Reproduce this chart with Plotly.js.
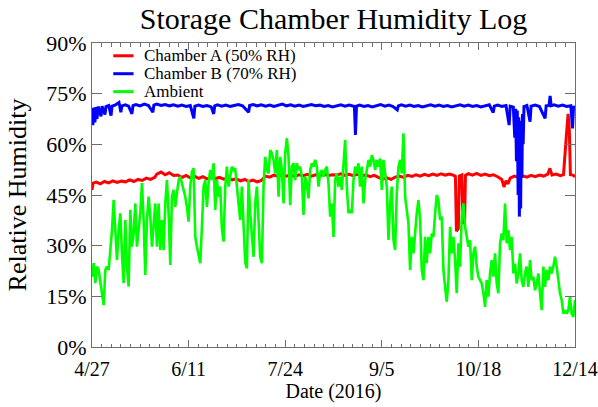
<!DOCTYPE html>
<html>
<head>
<meta charset="utf-8">
<script src="https://cdn.plot.ly/plotly-3.0.1.min.js"></script>
<style>
  html, body { margin: 0; padding: 0; background: #fff; }
  #chart { width: 598px; height: 407px; }
</style>
</head>
<body>
<div id="chart"></div>
<script>
// Storage chamber humidity log, 4/27 - 12/14 2016
// x is days since the first reading (span 231 days)
const SPAN = 231;
const tickLabels = ['4/27', '6/11', '7/24', '9/5', '10/18', '12/14'];
const seriesNames = ['Chamber A (50% RH)', 'Chamber B (70% RH)', 'Ambient'];
const seriesColors = ['#ff0000', '#0000ff', '#00ff00'];

// Chamber A readings (day, %RH)
const chamberADays = [0, 0.5, 2, 4, 6, 8, 10, 12, 14, 16, 18, 20, 22, 24, 26, 28, 30,
  31, 33, 35, 37, 39, 41, 43, 45, 47, 49, 51, 53, 55, 57, 59, 61, 63, 65, 67, 69, 71, 73,
  75, 77, 79, 81, 83, 85, 87, 89, 91, 93, 95, 97, 99, 101, 103, 105, 107, 109, 111, 113,
  115, 117, 119, 121, 123, 125, 127, 129, 131, 133, 135, 137, 139, 141, 143, 145, 147,
  149, 151, 153, 155, 157, 159, 161, 163, 165, 167, 169, 171, 173, 173.8, 174.3, 175.2,
  175.7, 176.9, 177.4, 178.2, 178.6, 180, 182, 184, 186, 188, 190, 192, 194, 196, 197,
  198, 199, 200, 202, 204, 206, 208, 210, 212, 214, 216, 218, 219, 220, 222, 224, 225.5,
  226.8, 227.7, 228.3, 228.8, 230, 231];
const chamberAVals = [46.5, 48.5, 48.8, 48.3, 49.0, 48.6, 49.2, 48.7, 49.1, 48.9, 49.5,
  49.0, 49.6, 49.3, 50.0, 49.6, 50.2, 51.2, 51.8, 51.0, 51.6, 50.8, 50.9, 50.2, 50.8,
  50.1, 50.6, 49.9, 50.4, 49.8, 50.3, 49.9, 50.2, 49.7, 50.1, 49.5, 49.8, 49.2, 49.6,
  49.0, 49.4, 48.9, 49.3, 50.6, 50.3, 50.9, 50.5, 51.0, 50.6, 50.9, 50.5, 51.0, 50.7,
  51.1, 50.6, 51.0, 50.7, 51.2, 50.8, 51.0, 50.9, 51.3, 50.8, 51.1, 50.7, 51.2, 50.6,
  51.0, 50.4, 50.8, 50.2, 49.7, 50.1, 49.6, 50.3, 50.6, 50.2, 50.8, 50.5, 51.0, 50.6,
  51.1, 50.7, 51.2, 50.8, 51.3, 50.9, 51.2, 50.8, 50.5, 34.3, 35.0, 50.6, 50.9, 36.6,
  37.0, 50.8, 51.3, 50.9, 51.4, 50.8, 51.2, 50.7, 51.0, 50.4, 49.6, 47.4, 49.2, 48.3,
  50.0, 50.6, 50.2, 50.7, 50.3, 50.8, 50.4, 50.9, 50.6, 51.2, 52.9, 50.9, 51.2, 50.7,
  51.0, 62.0, 69.0, 64.0, 51.0, 50.9, 50.4];

// Chamber B readings (day, %RH)
const chamberBDays = [0, 0.4, 0.9, 1.4, 1.9, 2.4, 2.9, 4.3, 4.8, 6.2, 6.7, 8, 9.1, 9.6,
  11, 12.9, 13.3, 13.8, 14.3, 16, 17.5, 19.1, 19.6, 21, 23, 25, 27, 29.1, 29.6, 31, 33,
  35, 37, 39, 41, 43, 45, 47, 48.7, 49.2, 51, 53, 55, 57, 58.2, 58.7, 60, 62, 64, 66,
  68, 70, 72, 74.9, 75.4, 77, 79, 81, 83, 85, 87, 89, 91, 93, 95, 97, 99, 101, 103, 105,
  107, 109, 111, 113, 115, 117, 119, 121, 123, 125.5, 126, 126.5, 128, 130, 132, 134,
  136, 138, 140, 142, 144, 146, 146.5, 148, 150, 152, 154, 156, 158, 160, 162, 164, 166,
  168, 170, 172, 174, 176, 178, 180, 182, 184, 186, 188, 190, 191.9, 192.4, 194, 196,
  198, 199.5, 200, 201.5, 202.2, 202.6, 203, 203.4, 203.8, 204.1, 204.4, 204.7, 205,
  205.3, 205.6, 205.9, 206.2, 206.6, 208, 209.5, 210, 212, 214, 216.7, 217.2, 218.6,
  219.1, 219.6, 221, 223, 225, 227, 229, 229.8, 230.3, 231];
const chamberBVals = [70.6, 65.7, 70.9, 66.5, 71.0, 67.5, 71.2, 68.3, 71.3, 68.8, 71.2,
  71.5, 68.5, 71.3, 71.6, 72.4, 71.2, 69.5, 71.4, 71.7, 71.3, 69.0, 71.5, 71.8, 71.4,
  71.9, 71.5, 69.5, 71.6, 71.9, 71.5, 71.8, 71.4, 71.7, 71.3, 71.6, 71.2, 71.5, 67.7,
  71.3, 71.6, 71.2, 71.5, 71.1, 69.0, 71.4, 71.7, 71.3, 71.6, 71.2, 71.5, 71.8, 71.4,
  69.5, 71.5, 71.8, 71.4, 71.7, 71.3, 71.6, 71.2, 71.5, 71.9, 71.4, 71.7, 71.3, 71.6,
  71.2, 71.5, 71.8, 71.4, 71.6, 71.2, 71.5, 71.1, 71.4, 71.7, 71.3, 71.6, 71.2, 62.8,
  71.3, 71.6, 71.2, 71.5, 71.1, 71.4, 71.8, 71.3, 71.6, 71.2, 70.2, 71.4, 71.7, 71.3,
  71.6, 71.2, 71.5, 71.1, 71.4, 71.7, 71.3, 71.6, 71.2, 71.5, 71.1, 71.4, 71.7, 71.3,
  71.6, 71.2, 71.5, 71.1, 71.4, 71.7, 69.4, 71.3, 71.6, 71.2, 71.5, 65.7, 71.3, 71.0,
  62.0, 70.5, 55.0, 70.0, 45.0, 68.0, 38.6, 67.0, 41.0, 66.0, 50.0, 69.0, 60.0, 71.2,
  71.5, 66.7, 71.3, 71.6, 71.2, 67.7, 71.4, 71.5, 74.3, 71.4, 71.7, 71.3, 71.6, 71.2,
  71.4, 64.7, 71.0, 71.2];

// Ambient readings, evenly sampled over the whole span
const ambientVals = [
  20.8, 24.8, 18.9, 23.8, 22.8, 19, 15, 12.4, 22.8, 23.8,
  22.8, 27.7, 34.6, 43.5, 32.7, 25.8, 34.6, 39.6, 27.7, 18.9,
  37.6, 23.8, 17.9, 40.6, 29.7, 33.6, 42.5, 29.7, 34.6, 39.6,
  48.5, 37.6, 21.3, 37.6, 44.5, 38.6, 29.7, 35.6, 42.5, 29.7,
  42.5, 28.7, 37.6, 28.7, 42.5, 49.4, 39.6, 24.3, 44.5, 46.5,
  41.5, 45.5, 49.4, 50.4, 48.5, 46.5, 44.5, 41.5, 37.1, 47.5,
  51.9, 52.9, 32.7, 29.7, 26.7, 24.8, 35.6, 47.5, 49.4, 41.5,
  48.5, 52.4, 49.4, 54.4, 40.6, 49.4, 44.5,
  47.5, 35, 31.2, 47.5, 53.4, 47.5, 50.4, 53.4, 52.4, 52.9,
  47.5, 42.5, 37.6, 47.5, 37.6, 25, 23.3, 49.4, 39.6, 31.7,
  26.7, 42.5, 47.5, 37.6, 26.7, 24.8, 47.5, 56.3, 52.4, 51.4,
  58.3, 57.3, 55.4, 51.4, 58.3, 44.5, 56.3, 52.4, 42.5, 57.3,
  61.8, 56.3, 42, 53.4, 54.4, 49.4, 54.4, 52.4, 53.4, 50.4,
  39.1, 50.4, 48.4, 44, 52.4, 54.4, 53.4, 55.4, 53.4, 47.5,
  51.4, 52.4, 50.4, 52.4, 53.4, 48.4, 38.6, 42.5, 32.6, 49.4,
  51.4, 47.5, 50.4,
  46.5, 54.4, 61.3, 47.5, 39.6, 40.5, 39.6, 49.4, 53.4, 51.4,
  54.4, 47.5, 53.4, 42.5, 49.4, 52.4, 55.4, 53.4, 56.8, 55.4,
  52.4, 55.4, 53.4, 55.8, 46.5, 55.4, 51.4, 47.5, 31.7, 42.5,
  47.5, 31.7, 28.7, 45.5, 53.4, 55.4, 51.4, 63.3, 44.5, 39.6,
  36.6, 22.8, 32.6, 27.7, 34.6, 39.6, 43.5, 37.6, 22.8, 19.8,
  32.6, 24.8, 32.6, 27.7, 33.6, 32.6, 39.6, 45, 43.5, 37.6,
  38.6, 22.8, 17.8, 13.4, 19.8, 35.6, 27.7, 32.6, 25.7, 15.9,
  30.7, 23.8,
  38.6, 42.5, 35.6, 32.6, 29.7, 31.6, 19.8, 27.7, 29.7, 23.8,
  20.8, 19.8, 18.8, 15.9, 11.9, 19.8, 14.9, 21.8, 25.7, 20.8,
  27.7, 18.8, 15.9, 30.7, 33.6, 31.6, 42.5, 30.7, 34.6, 28.7,
  32.6, 21.8, 24.7, 18.8, 21.8, 27.7, 19.8, 17.8, 21.8, 23.8,
  17.8, 25.7, 19.8, 20.8, 16.8, 18.8, 21.8, 15.9, 10.9, 23.8,
  17.8, 22.8, 19.8, 23.8, 21.8, 23.8, 26.7, 23.8, 18.8, 15.9,
  13.9, 9.9, 10.9, 9.9, 10.9, 14.9, 9.9, 8.9, 13.9
];
const ambientDays = ambientVals.map((_, i) => i * SPAN / (ambientVals.length - 1));

const SERIF = '"Liberation Serif", "Times New Roman", serif';
const AXIS_GREY = '#6e6e6e';

const traces = [
  { x: chamberADays, y: chamberAVals },
  { x: chamberBDays, y: chamberBVals },
  { x: ambientDays, y: ambientVals }
].map((t, i) => ({
  x: t.x,
  y: t.y,
  type: 'scatter',
  mode: 'lines',
  name: seriesNames[i],
  line: { color: seriesColors[i], width: i === 2 ? 2.6 : 3 },
  hoverinfo: 'skip'
}));

// hand-made legend (tight rows, like the original)
const legendRows = [0.958, 0.899, 0.840];
const annotations = seriesNames.map((name, i) => ({
  xref: 'paper', yref: 'paper',
  x: 0.104, y: legendRows[i],
  xanchor: 'left', yanchor: 'middle',
  text: name, showarrow: false,
  font: { family: SERIF, size: 17, color: '#000' }
}));
const shapes = seriesColors.map((c, i) => ({
  type: 'line', xref: 'paper', yref: 'paper',
  x0: 0.044, x1: 0.086, y0: legendRows[i], y1: legendRows[i],
  line: { color: c, width: 3 }
}));

const layout = {
  width: 598,
  height: 407,
  margin: { l: 91.5, r: 23, t: 43, b: 60 },
  paper_bgcolor: '#fff',
  plot_bgcolor: '#fff',
  showlegend: false,
  font: { family: SERIF, color: '#000' },
  title: {
    text: 'Storage Chamber Humidity Log',
    font: { family: SERIF, size: 30, color: '#000' },
    xref: 'paper', x: 0.5, xanchor: 'center',
    yref: 'container', y: 0.955, yanchor: 'middle'
  },
  xaxis: {
    range: [0, SPAN],
    tickmode: 'array',
    tickvals: tickLabels.map((_, i) => i * SPAN / (tickLabels.length - 1)),
    ticktext: tickLabels,
    ticks: 'inside', ticklen: 7, tickwidth: 1, tickcolor: AXIS_GREY,
    minor: { ticks: 'inside', ticklen: 3.5, tick0: 0, dtick: SPAN / 50, tickcolor: AXIS_GREY, showgrid: false },
    showline: true, linecolor: AXIS_GREY, linewidth: 1, mirror: 'ticks',
    showgrid: false, zeroline: false,
    ticklabelstandoff: 4,
    tickfont: { family: SERIF, size: 20, color: '#000' },
    title: { text: 'Date (2016)', font: { family: SERIF, size: 20, color: '#000' }, standoff: 0 }
  },
  yaxis: {
    range: [0, 90],
    tick0: 0, dtick: 15,
    ticksuffix: '%',
    ticks: 'inside', ticklen: 10, tickwidth: 1, tickcolor: AXIS_GREY,
    showline: true, linecolor: AXIS_GREY, linewidth: 1, mirror: 'ticks',
    showgrid: false, zeroline: false,
    tickfont: { family: SERIF, size: 22, color: '#000' },
    title: { text: 'Relative Humidity', font: { family: SERIF, size: 26, color: '#000' }, standoff: 12 }
  },
  annotations: annotations,
  shapes: shapes
};

Plotly.newPlot('chart', traces, layout, { displayModeBar: false, staticPlot: true });
</script>
</body>
</html>
